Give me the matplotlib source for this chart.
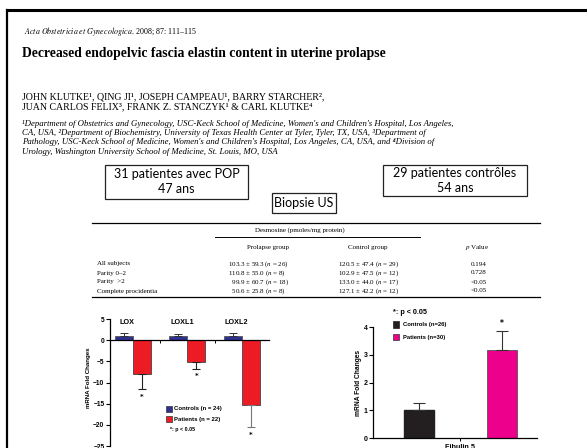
import matplotlib.pyplot as plt
from matplotlib.lines import Line2D
from matplotlib.patches import Rectangle
import numpy as np

plt.rcParams['mathtext.fontset'] = 'stix'

# LOX family, mRNA fold changes
genes = ['LOX', 'LOXL1', 'LOXL2']
ctrl_vals = [1.1, 1.1, 1.1]
ctrl_err = [0.6, 0.3, 0.6]
pat_vals = [-8.1, -5.1, -15.2]
pat_err = [3.5, 1.6, 5.4]

# fibulin 5
fib_label = ['Fibulin 5']
fib_ctrl = [1.0]
fib_ctrl_err = [0.27]
fib_pat = [3.17]
fib_pat_err = [0.67]

# desmosine table
row_labels = ['All subjects', 'Parity 0–2', 'Parity  >2', 'Complete procidentia']
prolapse_col = ['103.3 ± 59.3 ($n$ = 26)', '110.8 ± 55.0 ($n$ = 8)',
                '  99.9 ± 60.7 ($n$ = 18)', '  50.6 ± 25.8 ($n$ = 8)']
control_col = ['120.5 ± 47.4 ($n$ = 29)', '102.9 ± 47.5 ($n$ = 12)',
               '133.0 ± 44.0 ($n$ = 17)', '127.1 ± 42.2 ($n$ = 12)']
p_col = ['0.194', '0.728', '<0.05', '<0.05']

W, H = 587, 448
fig = plt.figure(figsize=(W / 100, H / 100), dpi=100)

def fx(x):
    return x / W

def fy(y):
    return 1 - y / H

def hline(x0, x1, y, lw=1.0, color='black'):
    fig.add_artist(Line2D([fx(x0), fx(x1)], [fy(y), fy(y)], lw=lw, color=color,
                          transform=fig.transFigure))

def box(x0, y0, x1, y1):
    fig.add_artist(Rectangle((fx(x0), fy(y1)), fx(x1) - fx(x0), fy(y0) - fy(y1),
                             transform=fig.transFigure, fill=False, lw=0.9, ec='#222222'))

# page border
hline(7, 587, 10, lw=2.2)
fig.add_artist(Line2D([fx(7), fx(7)], [fy(10), fy(448)], lw=1.6, color='black',
                      transform=fig.transFigure))

serif = ['Liberation Serif', 'DejaVu Serif']
fig.text(fx(24), fy(31), r'$\it{Acta\ Obstetricia\ et\ Gynecologica}$. 2008; 87: 111–115',
         family=serif, fontsize=5.8, va='center')
fig.text(fx(22), fy(54), 'Decreased endopelvic fascia elastin content in uterine prolapse',
         family=serif, fontsize=9.8, fontweight='bold', va='center')
fig.text(fx(22), fy(97), 'JOHN KLUTKE¹, QING JI¹, JOSEPH CAMPEAU¹, BARRY STARCHER²,',
         family=serif, fontsize=7.1, va='center')
fig.text(fx(22), fy(107), 'JUAN CARLOS FELIX³, FRANK Z. STANCZYK¹ & CARL KLUTKE⁴',
         family=serif, fontsize=7.1, va='center')
affil = [
    "¹Department of Obstetrics and Gynecology, USC-Keck School of Medicine, Women's and Children's Hospital, Los Angeles,",
    "CA, USA, ²Department of Biochemistry, University of Texas Health Center at Tyler, Tyler, TX, USA, ³Department of",
    "Pathology, USC-Keck School of Medicine, Women's and Children's Hospital, Los Angeles, CA, USA, and ⁴Division of",
    "Urology, Washington University School of Medicine, St. Louis, MO, USA",
]
for i, line in enumerate(affil):
    fig.text(fx(22), fy(124 + 9.2 * i), line, family=serif, style='italic', fontsize=6.3, va='center')

# text boxes
sans = 'Lato'
box(105, 165, 248, 199)
fig.text(fx(176.5), fy(174), '31 patientes avec POP', family=sans, fontsize=9, ha='center', va='center')
fig.text(fx(176.5), fy(189), '47 ans', family=sans, fontsize=9, ha='center', va='center')
box(383, 165, 527, 196)
fig.text(fx(455), fy(173), '29 patientes contrôles', family=sans, fontsize=9, ha='center', va='center')
fig.text(fx(455), fy(188), '54 ans', family=sans, fontsize=9, ha='center', va='center')
box(272, 193, 336, 213)
fig.text(fx(304), fy(203), 'Biopsie US', family=sans, fontsize=9, ha='center', va='center')

# table
tfs = 5.0
hline(92, 540, 223, lw=0.9)
fig.text(fx(300), fy(230), 'Desmosine (pmoles/mg protein)', family=serif, fontsize=tfs, ha='center', va='center')
hline(215, 420, 237, lw=0.7)
fig.text(fx(268), fy(247), 'Prolapse group', family=serif, fontsize=tfs, ha='center', va='center')
fig.text(fx(368), fy(247), 'Control group', family=serif, fontsize=tfs, ha='center', va='center')
fig.text(fx(477), fy(247), r'$\it{p}$ Value', family=serif, fontsize=tfs, ha='center', va='center')
for i in range(len(row_labels)):
    yy = fy(264 + 9 * i)
    fig.text(fx(97), yy, row_labels[i], family=serif, fontsize=tfs, va='center')
    fig.text(fx(228), yy, prolapse_col[i], family=serif, fontsize=tfs, va='center')
    fig.text(fx(338), yy, control_col[i], family=serif, fontsize=tfs, va='center')
    fig.text(fx(471), yy, p_col[i], family=serif, fontsize=tfs, va='center')
hline(92, 540, 297, lw=0.9)

# left chart: LOX family
axl = fig.add_axes([fx(110), fy(446), fx(269) - fx(110), fy(319) - fy(446)])
x = np.arange(len(genes))
bw = 0.33
axl.bar(x - bw / 2, ctrl_vals, bw, color='#2e3192', edgecolor='#555555', lw=0.6)
axl.bar(x + bw / 2, pat_vals, bw, color='#ed1c24', edgecolor='#444444', lw=0.6)
axl.errorbar(x - bw / 2, ctrl_vals, yerr=[np.zeros(3), ctrl_err], fmt='none',
             ecolor='#333333', elinewidth=0.7, capsize=3, capthick=0.7)
err_cols = ['#222222', '#222222', '#777777']
for i in range(len(genes)):
    axl.errorbar(x[i] + bw / 2, pat_vals[i], yerr=[[pat_err[i]], [0]], fmt='none',
                 ecolor=err_cols[i], elinewidth=0.8, capsize=3, capthick=0.8)
    axl.text(x[i] + bw / 2, pat_vals[i] - pat_err[i] - 1.0, '*', ha='center', va='top',
             fontsize=5, fontweight='bold')
    axl.text(x[i] - 0.1, 4.2, genes[i], ha='center', va='center', fontsize=5.2,
             fontweight='bold', family='Liberation Sans')
axl.set_xlim(-0.42, 2.5)
axl.set_ylim(-25, 5)
axl.set_yticks([5, 0, -5, -10, -15, -20, -25])
axl.set_xticks([0.5, 1.5])
axl.set_xticklabels([])
axl.spines['top'].set_visible(False)
axl.spines['right'].set_visible(False)
axl.spines['bottom'].set_position(('data', 0))
axl.spines['left'].set_linewidth(0.9)
axl.spines['bottom'].set_linewidth(0.9)
axl.tick_params(axis='y', labelsize=4.8, length=3, width=0.8, pad=1)
axl.tick_params(axis='x', length=2, width=0.7)
for t in axl.get_yticklabels():
    t.set_fontweight('bold')
    t.set_family('Liberation Sans')
axl.set_ylabel('mRNA Fold Changes', fontsize=4.4, fontweight='bold', family='Liberation Sans')
axl.yaxis.set_label_coords(-0.12, 0.535)
axl.add_patch(Rectangle((0.352, 0.27), 0.035, 0.045, transform=axl.transAxes,
                        fc='#2e3192', ec='#333333', lw=0.5))
axl.add_patch(Rectangle((0.352, 0.19), 0.035, 0.045, transform=axl.transAxes,
                        fc='#ed1c24', ec='#333333', lw=0.5))
axl.text(0.405, 0.292, 'Controls (n = 24)', transform=axl.transAxes, fontsize=4.3,
         fontweight='bold', va='center', family='Liberation Sans')
axl.text(0.405, 0.212, 'Patients (n = 22)', transform=axl.transAxes, fontsize=4.3,
         fontweight='bold', va='center', family='Liberation Sans')
axl.text(0.375, 0.128, '*: p < 0.05', transform=axl.transAxes, fontsize=3.8,
         fontweight='bold', va='center', family='Liberation Sans')

# right chart: fibulin 5
axr = fig.add_axes([fx(373), fy(438), fx(537) - fx(373), fy(327) - fy(438)])
bw2 = 0.36
axr.bar([-0.5], fib_ctrl, bw2, color='#231f20', edgecolor='#231f20')
axr.bar([0.5], fib_pat, bw2, color='#ec008c', edgecolor='#555555', lw=0.6)
axr.errorbar([-0.5], fib_ctrl, yerr=[[0], fib_ctrl_err], fmt='none', ecolor='#333333',
             elinewidth=0.8, capsize=4, capthick=0.8)
axr.errorbar([0.5], fib_pat, yerr=[[0], fib_pat_err], fmt='none', ecolor='#333333',
             elinewidth=0.8, capsize=4, capthick=0.8)
axr.text(0.5, fib_pat[0] + fib_pat_err[0] + 0.12, '*', ha='center', va='bottom',
         fontsize=5.5, fontweight='bold')
axr.set_xlim(-1.05, 0.92)
axr.set_ylim(0, 4)
axr.set_yticks([0, 1, 2, 3, 4])
axr.set_xticks([0])
axr.set_xticklabels(fib_label, fontsize=5.2, fontweight='bold', family='Liberation Sans')
axr.spines['top'].set_visible(False)
axr.spines['right'].set_visible(False)
axr.spines['left'].set_linewidth(0.9)
axr.spines['bottom'].set_linewidth(0.9)
axr.tick_params(axis='y', labelsize=5.0, length=3, width=0.8, pad=0.8)
axr.tick_params(axis='x', length=2, width=0.7, pad=2)
for t in axr.get_yticklabels():
    t.set_fontweight('bold')
    t.set_family('Liberation Sans')
axr.set_ylabel('mRNA Fold Changes', fontsize=4.8, fontweight='bold', family='Liberation Sans')
axr.yaxis.set_label_coords(-0.068, 0.5)
axr.add_patch(Rectangle((0.122, 0.995), 0.035, 0.055, transform=axr.transAxes,
                        fc='#231f20', ec='#231f20', lw=0.5, clip_on=False))
axr.add_patch(Rectangle((0.122, 0.88), 0.035, 0.055, transform=axr.transAxes,
                        fc='#ec008c', ec='#333333', lw=0.5, clip_on=False))
axr.text(0.18, 1.022, 'Controls (n=26)', transform=axr.transAxes, fontsize=4.2,
         fontweight='bold', va='center', family='Liberation Sans')
axr.text(0.18, 0.907, 'Patients (n=30)', transform=axr.transAxes, fontsize=4.2,
         fontweight='bold', va='center', family='Liberation Sans')
axr.text(0.12, 1.135, '*: p < 0.05', transform=axr.transAxes, fontsize=5.2,
         fontweight='bold', va='center', family='Liberation Sans')

fig.savefig('out.png', dpi=100)
